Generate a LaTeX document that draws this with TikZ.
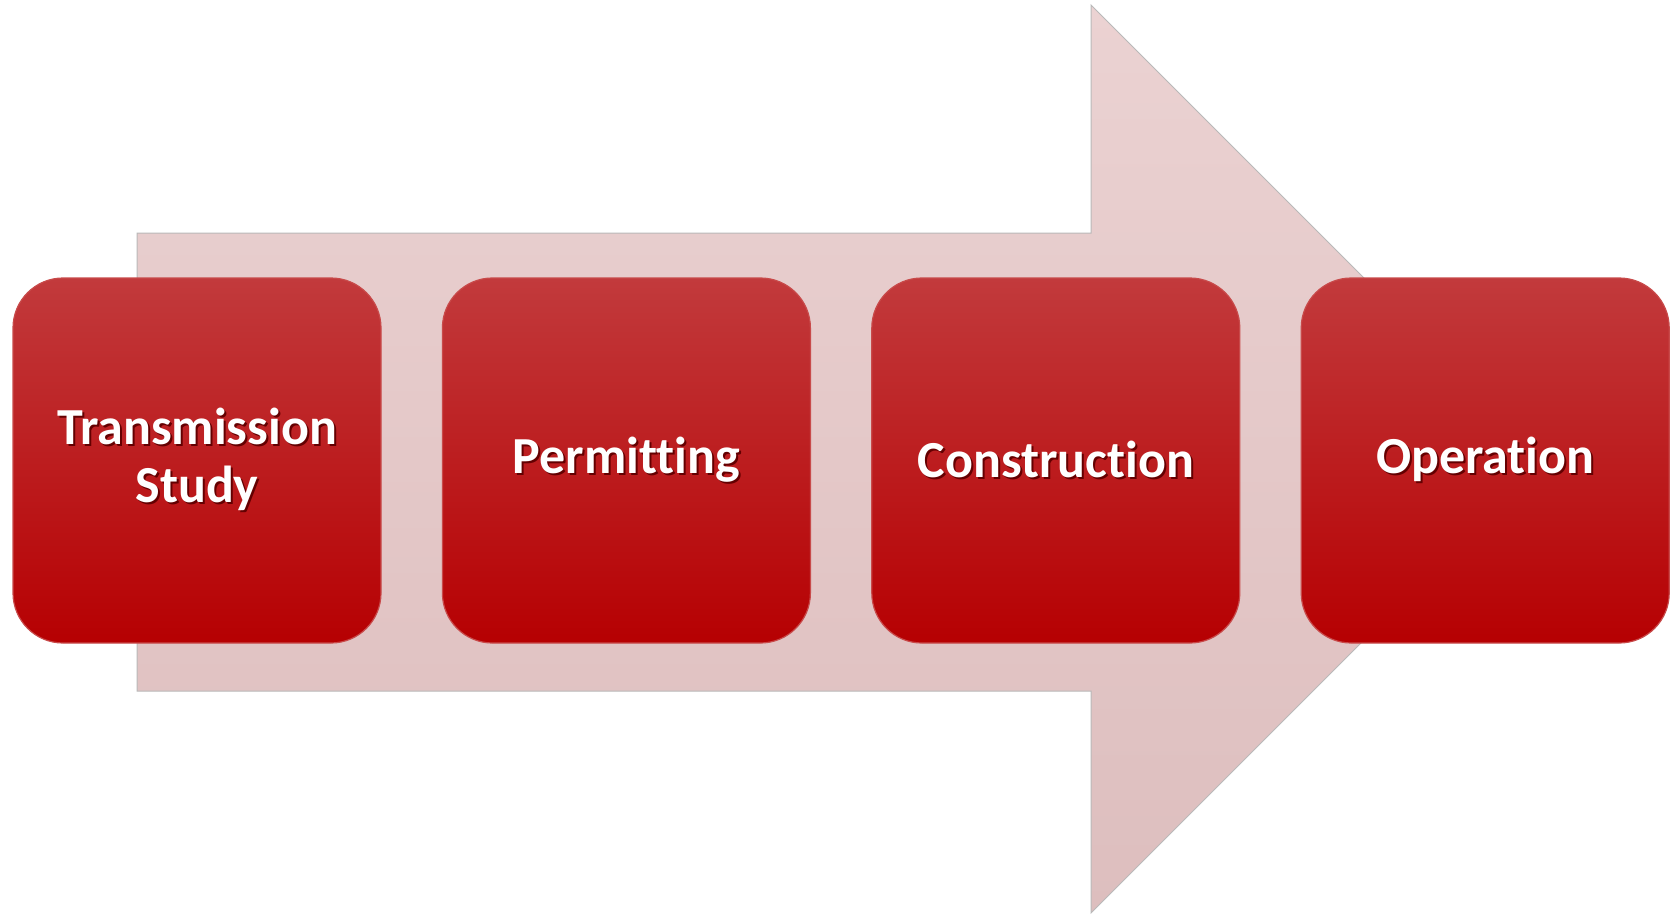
\documentclass[tikz,border=0pt]{standalone}
\usepackage{fontspec}
\setmainfont{Carlito}[Ligatures=NoCommon]
\usepackage{tikz}
\usetikzlibrary{positioning,shadings}
\definecolor{stagetop}{HTML}{C23A3C}
\definecolor{stagebot}{HTML}{B60002}
\definecolor{stageedge}{HTML}{C84A4A}
\definecolor{flowtop}{HTML}{EBD2D2}
\definecolor{flowbot}{HTML}{DDBEBE}
\newcommand{\shtext}[1]{\makebox[0pt][l]{\hspace{1pt}\raisebox{-1pt}{\color{stagebot!55!black}#1}}#1}

\begin{document}
\begin{tikzpicture}[
      x=0.5pt, y=-0.5pt,
      font=\fontsize{26}{29}\selectfont\bfseries,
      stage/.style={draw=stageedge, line width=0.6pt, rounded corners=25pt,
                    top color=stagetop, bottom color=stagebot,
                    minimum width=184pt, minimum height=182.5pt,
                    inner sep=0pt, align=center, text=white},
      flow/.style={draw=gray!55, line width=0.5pt,
                   top color=flowtop, bottom color=flowbot}
    ]
    \useasboundingbox (0,0) rectangle (1673,915);

    % the big process arrow behind the stages
    \path[flow] (137,233) -- (1091,233) -- (1091,5) -- (1545,459)
      -- (1091,913) -- (1091,691) -- (137,691) -- cycle;

    \node[stage] (study) at (197,460.5) {\shtext{Transmission}\\\shtext{Study}};
    \node[stage, right=30.1pt of study]  (permit)  {\shtext{Permitting}};
    \node[stage, right=30.1pt of permit] (build)   {\shtext{Construction}};
    \node[stage, right=30.1pt of build]  (operate) {\shtext{Operation}};

  \end{tikzpicture}
\end{document}
